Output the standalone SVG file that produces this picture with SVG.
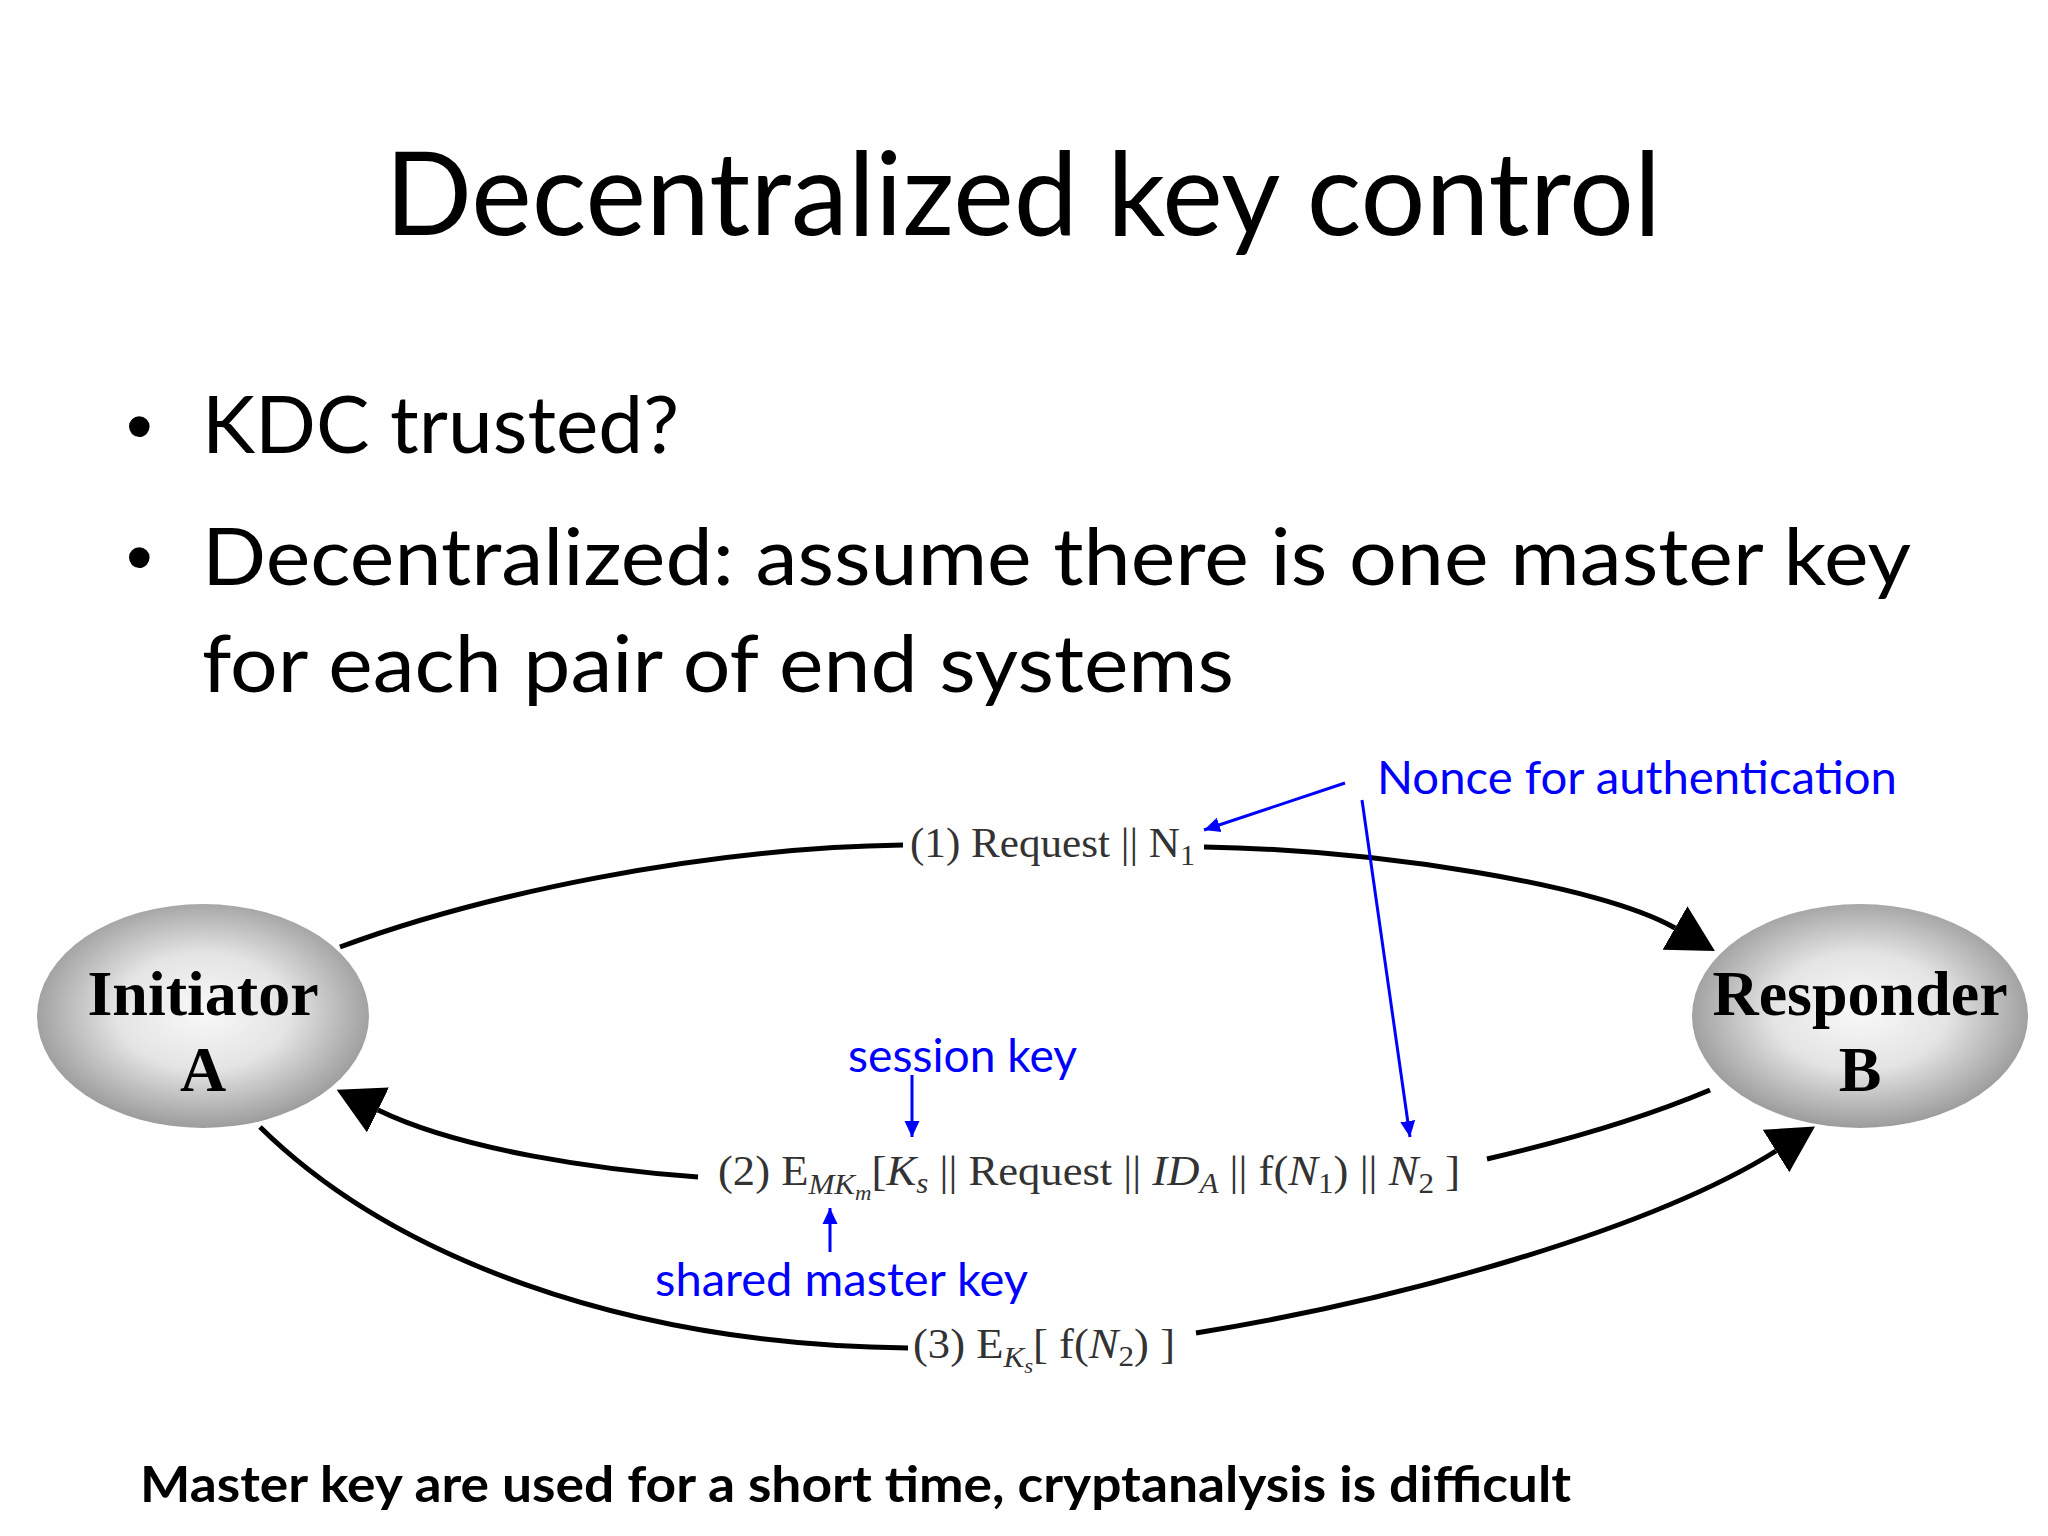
<svg xmlns="http://www.w3.org/2000/svg" width="2048" height="1536" viewBox="0 0 2048 1536">
<style>
.slide{font-family:Lato,"Open Sans","Liberation Sans",sans-serif;fill:#000}
.blue{font-family:Lato,"Open Sans","Liberation Sans",sans-serif;fill:#0000ff;font-size:46px}
.node{font-family:"Liberation Serif","Times New Roman",serif;font-weight:bold;font-size:64px;fill:#000;text-anchor:middle}
.lbl{font-family:"Liberation Serif","Times New Roman",serif;font-size:43px;fill:#333}
.conn{fill:none;stroke:#000;stroke-width:5}
.ann{fill:none;stroke:#0000ff;stroke-width:3}
.it{font-style:italic}
.bul{font-family:"Liberation Sans",Arial,sans-serif;font-size:76px;fill:#000}
</style>
<defs>
<radialGradient id="ballGrad" cx="50%" cy="48%" r="52%">
<stop offset="0" stop-color="#f9f9f9"/>
<stop offset="0.5" stop-color="#e4e4e4"/>
<stop offset="1" stop-color="#9c9c9c"/>
</radialGradient>
<marker id="bigHead" markerUnits="userSpaceOnUse" markerWidth="50" markerHeight="54" viewBox="0 -27 50 54" refX="0" refY="0" orient="auto">
<path d="M0,-25 L46,0 L0,25 z" fill="#000"/>
</marker>
<marker id="blueHead" markerUnits="userSpaceOnUse" markerWidth="18" markerHeight="18" viewBox="0 -9 18 18" refX="16" refY="0" orient="auto">
<path d="M0,-7.5 L16,0 L0,7.5 z" fill="#0000ff"/>
</marker>
</defs>
<rect width="2048" height="1536" fill="#fff"/>

<g id="title">
<text class="slide" x="385" y="235" font-size="116" textLength="1276" lengthAdjust="spacingAndGlyphs">Decentralized key control</text>
</g>
<g id="bullets">
<text class="bul" x="126" y="452">•</text>
<text class="slide" x="202" y="453" font-size="80" textLength="477" lengthAdjust="spacingAndGlyphs">KDC trusted?</text>
<text class="bul" x="126" y="583">•</text>
<text class="slide" x="202" y="585" font-size="80" textLength="1709" lengthAdjust="spacingAndGlyphs">Decentralized: assume there is one master key</text>
<text class="slide" x="202" y="692" font-size="80" textLength="1032" lengthAdjust="spacingAndGlyphs">for each pair of end systems</text>
</g>

<g id="node-initiator">
<ellipse cx="203" cy="1016" rx="166" ry="112" fill="url(#ballGrad)"/>
<text class="node" x="203" y="1015">Initiator</text>
<text class="node" x="203" y="1091">A</text>
</g>
<g id="node-responder">
<ellipse cx="1860" cy="1016" rx="168" ry="112" fill="url(#ballGrad)"/>
<text class="node" x="1860" y="1015">Responder</text>
<text class="node" x="1860" y="1091">B</text>
</g>

<g id="connectors">
<path class="conn" d="M340,947 C480,895 700,848 903,845"/>
<path class="conn" d="M1204,847 C1380,850 1600,885 1675,928" marker-end="url(#bigHead)"/>
<path class="conn" d="M1710,1090 Q1620,1128 1487,1159"/>
<path class="conn" d="M698,1177 C600,1170 460,1150 378,1110" marker-end="url(#bigHead)"/>
<path class="conn" d="M260,1127 C390,1255 620,1345 908,1348"/>
<path class="conn" d="M1196,1333 C1400,1300 1650,1230 1776,1151" marker-end="url(#bigHead)"/>
</g>

<g id="connector-labels">
<text class="lbl" x="910" y="857" textLength="285" lengthAdjust="spacingAndGlyphs">(1) Request || N<tspan font-size="30" dy="8">1</tspan></text>
<text class="lbl" x="718" y="1185" textLength="742" lengthAdjust="spacingAndGlyphs">(2) E<tspan class="it" font-size="30" dy="9">MK</tspan><tspan class="it" font-size="22" dy="6">m</tspan><tspan dy="-15">[</tspan><tspan class="it">K</tspan><tspan class="it" font-size="30" dy="8">s</tspan><tspan dy="-8"> || Request || </tspan><tspan class="it">ID</tspan><tspan class="it" font-size="30" dy="8">A</tspan><tspan dy="-8"> || f(</tspan><tspan class="it">N</tspan><tspan font-size="30" dy="8">1</tspan><tspan dy="-8">) || </tspan><tspan class="it">N</tspan><tspan font-size="30" dy="8">2</tspan><tspan dy="-8"> ]</tspan></text>
<text class="lbl" x="913" y="1358" textLength="262" lengthAdjust="spacingAndGlyphs">(3) E<tspan class="it" font-size="30" dy="9">K</tspan><tspan class="it" font-size="22" dy="6">s</tspan><tspan dy="-15">[ f(</tspan><tspan class="it">N</tspan><tspan font-size="30" dy="8">2</tspan><tspan dy="-8">) ]</tspan></text>
</g>

<g id="annotations">
<text class="blue" x="1377" y="794" textLength="520" lengthAdjust="spacingAndGlyphs">Nonce for authentication</text>
<path class="ann" d="M1345,783 L1204,830" marker-end="url(#blueHead)"/>
<path class="ann" d="M1362,800 L1410,1137" marker-end="url(#blueHead)"/>
<text class="blue" x="848" y="1072" textLength="229" lengthAdjust="spacingAndGlyphs">session key</text>
<path class="ann" d="M912,1075 L912,1137" marker-end="url(#blueHead)"/>
<text class="blue" x="655" y="1296" textLength="373" lengthAdjust="spacingAndGlyphs">shared master key</text>
<path class="ann" d="M830,1252 L830,1208" marker-end="url(#blueHead)"/>
</g>

<g id="footer">
<text class="slide" x="140" y="1502" font-size="50" font-weight="bold" textLength="1431" lengthAdjust="spacingAndGlyphs">Master key are used for a short time, cryptanalysis is difficult</text>
</g>
</svg>
